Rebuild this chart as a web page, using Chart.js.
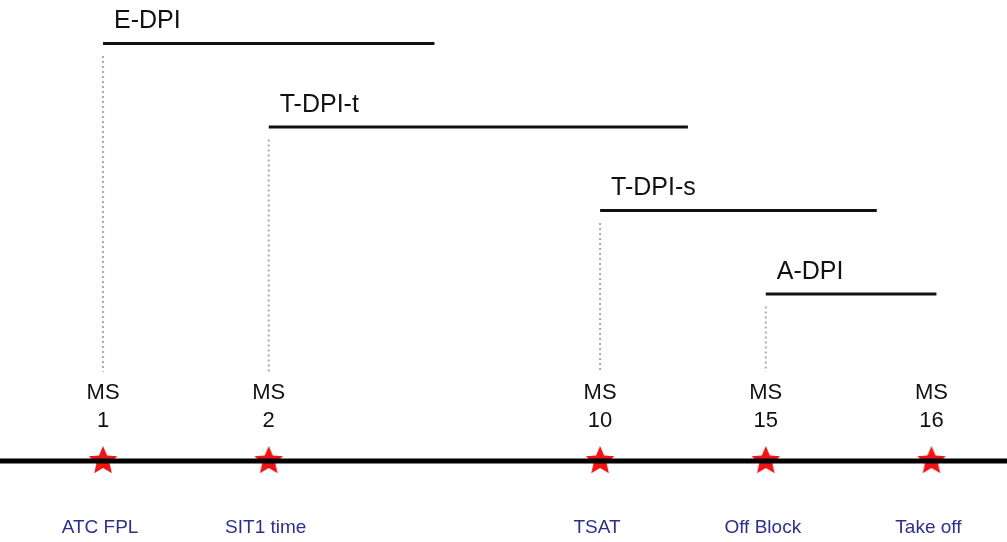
<!DOCTYPE html>
<html>
<head>
<meta charset="utf-8">
<script src="https://cdn.jsdelivr.net/npm/chart.js@4/dist/chart.umd.min.js"></script>
<style>
    html, body { margin: 0; padding: 0; background: #fff; }
    #wrap { width: 1007px; height: 542px; position: relative; }
</style>
</head>
<body>
<div id="wrap"><canvas id="timeline"></canvas></div>
<script>
// milestones on the time line (position units along the line)
const milestoneX = [1, 2, 4, 5, 6];
const milestoneNum = ['1', '2', '10', '15', '16'];
const milestoneEvent = ['ATC FPL', 'SIT1 time', 'TSAT', 'Off Block', 'Take off'];

// DPI message phases
const phaseName = ['E-DPI', 'T-DPI-t', 'T-DPI-s', 'A-DPI'];
const phaseStart = [1, 2, 4, 5];
const phaseEnd = [3.0, 4.53, 5.67, 6.03];
const phaseLevel = [5, 4, 3, 2];

const X_MIN = 0.378, X_MAX = 6.456;
const Y_MIN = -0.97, Y_MAX = 5.52;

// filled red star used as point style
function makeStar(r) {
    const c = document.createElement('canvas');
    c.width = c.height = r * 2 + 2;
    const g = c.getContext('2d');
    g.translate(r + 1, r + 1);
    g.beginPath();
    for (let i = 0; i < 10; i++) {
        const rad = i % 2 === 0 ? r : r * 0.46;
        const a = -Math.PI / 2 + i * Math.PI / 5;
        g.lineTo(rad * Math.cos(a), rad * Math.sin(a));
    }
    g.closePath();
    g.fillStyle = '#f01414';
    g.fill();
    return c;
}
const star = makeStar(15);

const datasets = [];

// main time line
datasets.push({
    data: [{x: X_MIN, y: 0}, {x: X_MAX, y: 0}],
    borderColor: '#000',
    borderWidth: 5,
    pointRadius: 0
});

phaseName.forEach((n, i) => {
    // phase bar
    datasets.push({
        data: [{x: phaseStart[i], y: phaseLevel[i]}, {x: phaseEnd[i], y: phaseLevel[i]}],
        borderColor: '#111',
        borderWidth: 3,
        pointRadius: 0
    });
    // dotted drop line down to the milestone label
    datasets.push({
        data: [{x: phaseStart[i], y: phaseLevel[i] - 0.15}, {x: phaseStart[i], y: 1.07}],
        borderColor: '#9fabc4',
        borderWidth: 2,
        borderDash: [2, 3],
        pointRadius: 0
    });
});

// stars
datasets.push({
    data: milestoneX.map(x => ({x: x, y: 0})),
    showLine: false,
    pointStyle: star,
    pointRadius: 15
});

const textPlugin = {
    id: 'texts',
    afterDatasetsDraw(chart) {
        const ctx = chart.ctx;
        const sx = chart.scales.x, sy = chart.scales.y;
        ctx.save();
        ctx.textBaseline = 'middle';

        ctx.fillStyle = '#111';
        ctx.textAlign = 'left';
        ctx.font = '25px "Liberation Sans", Arial, sans-serif';
        phaseName.forEach((n, i) => {
            ctx.fillText(n, sx.getPixelForValue(phaseStart[i]) + 11, sy.getPixelForValue(phaseLevel[i]) - 22);
        });

        ctx.textAlign = 'center';
        ctx.font = '22px "Liberation Sans", Arial, sans-serif';
        milestoneX.forEach((x, i) => {
            const px = sx.getPixelForValue(x);
            ctx.fillText('MS', px, sy.getPixelForValue(0.81));
            ctx.fillText(milestoneNum[i], px, sy.getPixelForValue(0.48));
        });

        ctx.fillStyle = '#2e2f8c';
        ctx.font = '19px "Liberation Sans", Arial, sans-serif';
        milestoneX.forEach((x, i) => {
            ctx.fillText(milestoneEvent[i], sx.getPixelForValue(x) - 3, sy.getPixelForValue(-0.8));
        });
        ctx.restore();
    }
};

new Chart(document.getElementById('timeline'), {
    type: 'scatter',
    data: {datasets: datasets},
    options: {
        responsive: true,
        maintainAspectRatio: false,
        animation: false,
        layout: {padding: 0, autoPadding: false},
        plugins: {
            legend: {display: false},
            tooltip: {enabled: false}
        },
        datasets: {
            scatter: {showLine: true}
        },
        scales: {
            x: {type: 'linear', min: X_MIN, max: X_MAX, display: false},
            y: {type: 'linear', min: Y_MIN, max: Y_MAX, display: false}
        }
    },
    plugins: [textPlugin]
});
</script>
</body>
</html>
